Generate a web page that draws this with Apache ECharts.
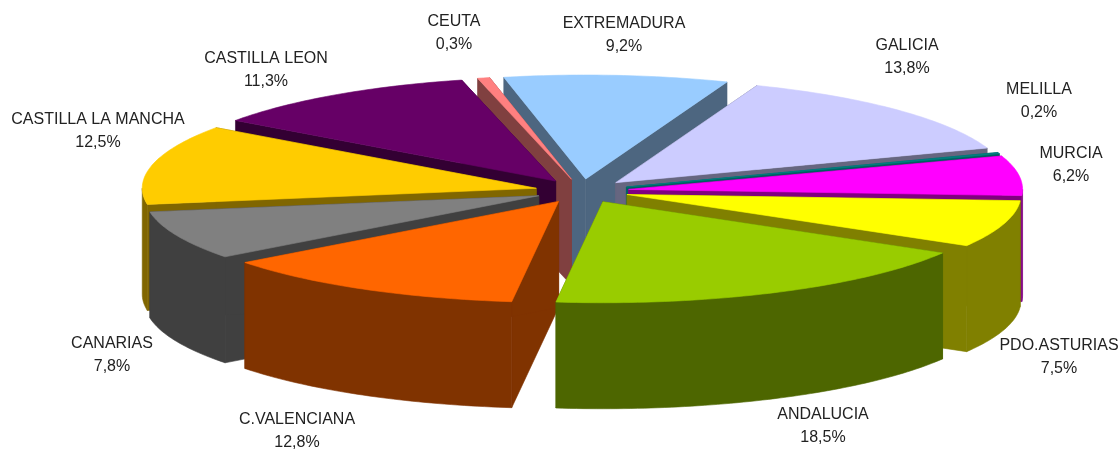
<!DOCTYPE html>
<html>
<head>
<meta charset="utf-8">
<style>
  html, body { margin: 0; padding: 0; background: #fff; }
  #chart { width: 1119px; height: 449px; }
</style>
</head>
<body>
<div id="chart"></div>
<script src="https://cdn.jsdelivr.net/npm/echarts@6/dist/echarts.min.js"></script>
<script>
// clockwise from the top, as in the original pie
var categories = ['EXTREMADURA', 'GALICIA', 'MELILLA', 'MURCIA', 'PDO.ASTURIAS', 'ANDALUCIA',
  'C.VALENCIANA', 'CANARIAS', 'CASTILLA LA MANCHA', 'CASTILLA LEON', 'CEUTA'];
var values = [9.2, 13.8, 0.2, 6.2, 7.5, 18.5, 12.8, 7.8, 12.5, 11.3, 0.3];

var topColors = ['#99ccff', '#ccccff', '#008080', '#ff00ff', '#ffff00', '#99cc00',
  '#ff6600', '#808080', '#ffcc00', '#660066', '#ff8080'];
var sideColors = ['#4d6680', '#666680', '#006060', '#800080', '#808000', '#4d6600',
  '#803300', '#404040', '#806600', '#330033', '#804040'];

// back slices first, each one paints over the previous
var drawOrder = [0, 10, 9, 1, 2, 3, 8, 4, 7, 6, 5];

// label centre x, first line y
var labelPos = [[624, 24], [907, 46], [1039, 90], [1071, 154], [1059, 346], [823, 415],
  [297, 420], [112, 344], [98, 120], [266, 59], [454, 22]];

var cx = 582, cy = 191, rx = 394, ryBack = 104, ryFront = 101, depth = 106;
var explodeX = 47, explodeY = 12;
var startAngle = -12;
var minAngle = 1.8; // thin slices stay visible, like pie minAngle

// angles: thin slices get minAngle, the others share what is left
var total = 0, reserved = 0;
values.forEach(function (v) {
  if (v / 100 * 360 < minAngle && v >= 0.3) reserved += minAngle;
  else total += v;
});
var starts = [], spans = [];
values.reduce(function (acc, v, i) {
  starts[i] = acc;
  spans[i] = (v / 100 * 360 < minAngle && v >= 0.3) ? minAngle : v / total * (360 - reserved);
  return acc + spans[i];
}, startAngle);

function rad(d) { return d * Math.PI / 180; }

function arcPoints(ox, oy, a0, a1, dy) {
  var pts = [];
  var n = Math.max(1, Math.ceil(a1 - a0));
  for (var i = 0; i <= n; i++) {
    var t = rad(a0 + (a1 - a0) * i / n);
    var c = Math.cos(t);
    pts.push([ox + rx * Math.sin(t), oy - (c > 0 ? ryBack : ryFront) * c + dy]);
  }
  return pts;
}

function poly(points, color) {
  return { type: 'polygon', shape: { points: points }, style: { fill: color, stroke: color, lineWidth: 0.6 } };
}

function renderSlice(params, api) {
  var idx = api.value(0);
  var a0 = starts[idx];
  var a1 = a0 + spans[idx];
  var mid = rad((a0 + a1) / 2);
  var ox = cx + explodeX * Math.sin(mid);
  var oy = cy - explodeY * Math.cos(mid);
  var side = sideColors[idx];
  var children = [];

  // cut faces
  [a0, a1].forEach(function (a) {
    var p = arcPoints(ox, oy, a, a, 0)[0];
    children.push(poly([[ox, oy], p, [p[0], p[1] + depth], [ox, oy + depth]], side));
  });

  // outer wall, front half only
  var w0 = Math.max(a0, 90), w1 = Math.min(a1, 270);
  if (w1 > w0) {
    children.push(poly(arcPoints(ox, oy, w0, w1, 0).concat(arcPoints(ox, oy, w0, w1, depth).reverse()), side));
  }

  children.push(poly([[ox, oy]].concat(arcPoints(ox, oy, a0, a1, 0)), topColors[idx]));
  return { type: 'group', children: children };
}

function renderLabel(params, api) {
  var idx = api.value(0);
  var pos = labelPos[idx];
  var pct = api.value(1).toFixed(1).replace('.', ',') + '%';
  return {
    type: 'group',
    children: [categories[idx], pct].map(function (txt, line) {
      return {
        type: 'text',
        style: {
          x: pos[0], y: pos[1] + line * 23, text: txt,
          textAlign: 'center', textVerticalAlign: 'middle',
          fill: '#222', font: '16px "Liberation Sans", Arial, sans-serif'
        }
      };
    })
  };
}

var chart = echarts.init(document.getElementById('chart'));
var sliceData = drawOrder.map(function (i) { return [i, values[i]]; });
chart.setOption({
  animation: false,
  series: [
    { type: 'custom', coordinateSystem: 'none', renderItem: renderSlice, data: sliceData, silent: true, z: 1 },
    { type: 'custom', coordinateSystem: 'none', renderItem: renderLabel, data: sliceData, silent: true, z: 2 }
  ]
});
</script>
</body>
</html>
